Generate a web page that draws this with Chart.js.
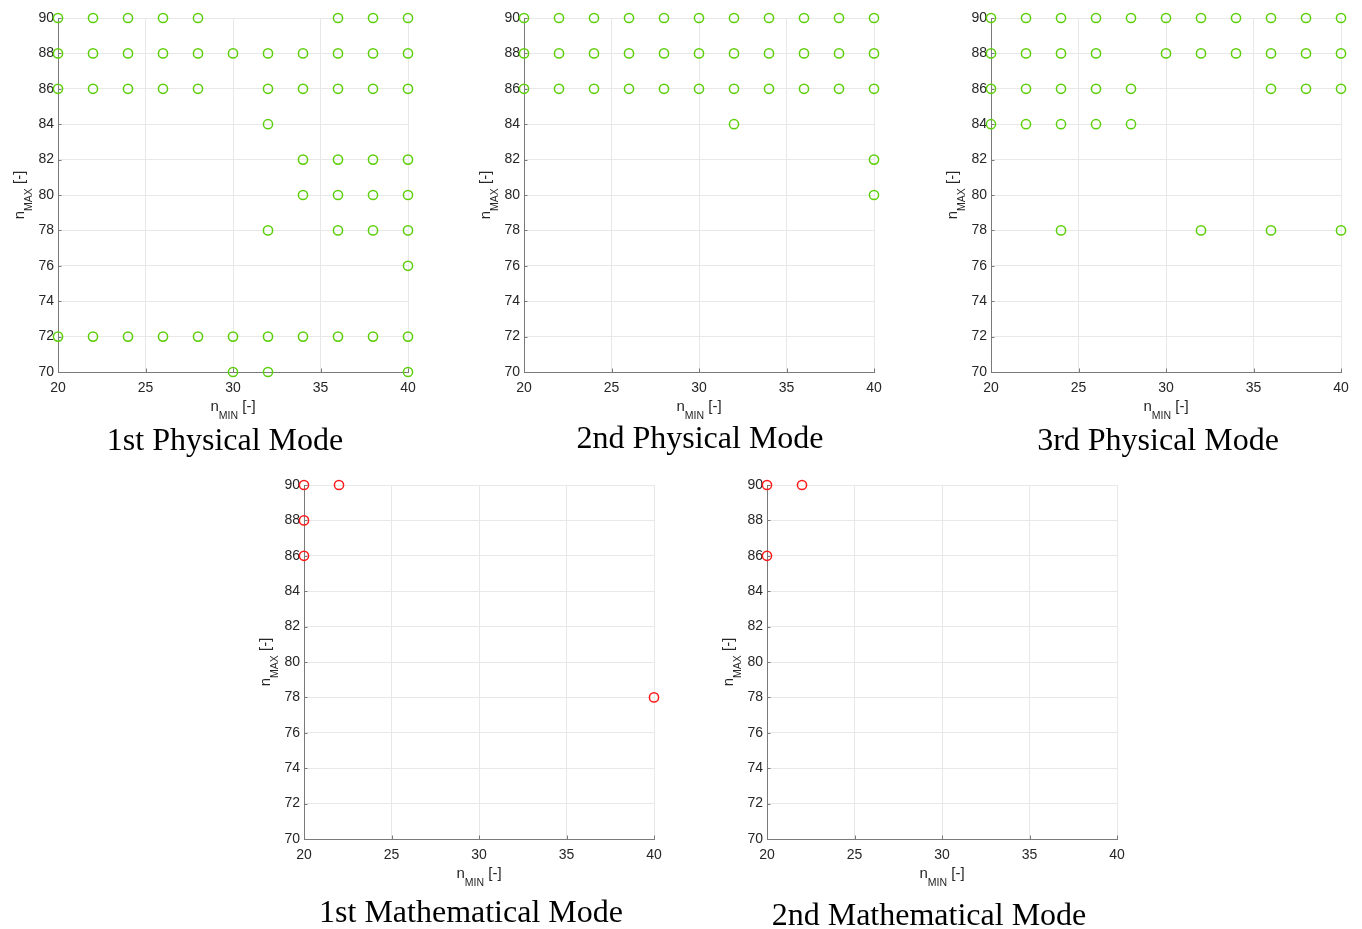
<!DOCTYPE html>
<html>
<head>
<meta charset="utf-8">
<script src="https://cdn.jsdelivr.net/npm/chart.js@4.4.1/dist/chart.umd.min.js"></script>
<style>
  html, body { margin: 0; padding: 0; background: #fff; width: 1362px; height: 929px; overflow: hidden; }
  #wrap { position: relative; width: 1362px; height: 929px; }
  .panel { position: absolute; }
</style>
</head>
<body>
<div id="wrap"></div>
<script>
// Tick values shared by all panels
const nMinTicks = [20, 25, 30, 35, 40];
const nMaxTicks = [70, 72, 74, 76, 78, 80, 82, 84, 86, 88, 90];

// Feasible (nMIN, nMAX) combinations, one pair of arrays per mode
const phys1Min = [20, 22, 24, 26, 28, 36, 38, 40,
                  20, 22, 24, 26, 28, 30, 32, 34, 36, 38, 40,
                  20, 22, 24, 26, 28, 32, 34, 36, 38, 40,
                  32,
                  34, 36, 38, 40,
                  34, 36, 38, 40,
                  32, 36, 38, 40,
                  40,
                  20, 22, 24, 26, 28, 30, 32, 34, 36, 38, 40,
                  30, 32, 40];
const phys1Max = [90, 90, 90, 90, 90, 90, 90, 90,
                  88, 88, 88, 88, 88, 88, 88, 88, 88, 88, 88,
                  86, 86, 86, 86, 86, 86, 86, 86, 86, 86,
                  84,
                  82, 82, 82, 82,
                  80, 80, 80, 80,
                  78, 78, 78, 78,
                  76,
                  72, 72, 72, 72, 72, 72, 72, 72, 72, 72, 72,
                  70, 70, 70];

const phys2Min = [20, 22, 24, 26, 28, 30, 32, 34, 36, 38, 40,
                  20, 22, 24, 26, 28, 30, 32, 34, 36, 38, 40,
                  20, 22, 24, 26, 28, 30, 32, 34, 36, 38, 40,
                  32, 40, 40];
const phys2Max = [90, 90, 90, 90, 90, 90, 90, 90, 90, 90, 90,
                  88, 88, 88, 88, 88, 88, 88, 88, 88, 88, 88,
                  86, 86, 86, 86, 86, 86, 86, 86, 86, 86, 86,
                  84, 82, 80];

const phys3Min = [20, 22, 24, 26, 28, 30, 32, 34, 36, 38, 40,
                  20, 22, 24, 26, 30, 32, 34, 36, 38, 40,
                  20, 22, 24, 26, 28, 36, 38, 40,
                  20, 22, 24, 26, 28,
                  24, 32, 36, 40];
const phys3Max = [90, 90, 90, 90, 90, 90, 90, 90, 90, 90, 90,
                  88, 88, 88, 88, 88, 88, 88, 88, 88, 88,
                  86, 86, 86, 86, 86, 86, 86, 86,
                  84, 84, 84, 84, 84,
                  78, 78, 78, 78];

const math1Min = [20, 22, 20, 20, 40];
const math1Max = [90, 90, 88, 86, 78];

const math2Min = [20, 22, 20];
const math2Max = [90, 90, 86];

const modeTitles = ['1st Physical Mode', '2nd Physical Mode', '3rd Physical Mode',
                    '1st Mathematical Mode', '2nd Mathematical Mode'];

const GREEN = '#5ccf0a';
const RED = '#ff1a1a';

// Panel placement: plot-area corner on the page, and where the caption sits
const panels = [
  { min: phys1Min, max: phys1Max, color: GREEN, left: 58,  top: 18,  capDx: 167, capDy: 78 },
  { min: phys2Min, max: phys2Max, color: GREEN, left: 524, top: 18,  capDx: 176, capDy: 76 },
  { min: phys3Min, max: phys3Max, color: GREEN, left: 991, top: 18,  capDx: 167, capDy: 78 },
  { min: math1Min, max: math1Max, color: RED,   left: 304, top: 485, capDx: 167, capDy: 83 },
  { min: math2Min, max: math2Max, color: RED,   left: 767, top: 485, capDx: 162, capDy: 86 }
];

const PLOT_W = 350, PLOT_H = 354;
const PAD_L = 60, PAD_T = 18, PAD_R = 20, PAD_B = 90;
const SANS = '"Liberation Sans", Arial, Helvetica, sans-serif';
const SERIF = '"Liberation Serif", "Times New Roman", serif';
const AXIS_COLOR = '#7a7a7a';
const TEXT_COLOR = '#262626';

// Draws "n" with a subscript and a trailing unit, centred on (cx, y baseline)
function subLabel(ctx, cx, y, base, sub, tail) {
  const mainFont = '15px ' + SANS, subFont = '10.5px ' + SANS;
  ctx.font = mainFont; const wb = ctx.measureText(base).width; const wt = ctx.measureText(tail).width;
  ctx.font = subFont; const ws = ctx.measureText(sub).width;
  let x = cx - (wb + ws + wt) / 2;
  ctx.textAlign = 'left'; ctx.textBaseline = 'alphabetic';
  ctx.font = mainFont; ctx.fillText(base, x, y); x += wb;
  ctx.font = subFont; ctx.fillText(sub, x, y + 7.5); x += ws;
  ctx.font = mainFont; ctx.fillText(tail, x, y);
}

const annotate = {
  id: 'annotate',
  afterDraw(chart, args, opts) {
    const { ctx, chartArea: a } = chart;
    const xs = chart.scales.x, ys = chart.scales.y;
    ctx.save();
    // short inward tick marks along both axes
    ctx.strokeStyle = AXIS_COLOR; ctx.lineWidth = 1;
    ctx.beginPath();
    nMinTicks.forEach(v => { const px = Math.round(xs.getPixelForValue(v)) + 0.5; ctx.moveTo(px, a.bottom); ctx.lineTo(px, a.bottom - 3.5); });
    nMaxTicks.forEach(v => { const py = Math.round(ys.getPixelForValue(v)) + 0.5; ctx.moveTo(a.left, py); ctx.lineTo(a.left + 3.5, py); });
    ctx.stroke();

    ctx.fillStyle = TEXT_COLOR;
    // x axis title
    subLabel(ctx, (a.left + a.right) / 2, a.bottom + 39, 'n', 'MIN', ' [-]');
    // y axis title, rotated
    ctx.save();
    ctx.translate(a.left - 34, (a.top + a.bottom) / 2);
    ctx.rotate(-Math.PI / 2);
    subLabel(ctx, 0, 0, 'n', 'MAX', ' [-]');
    ctx.restore();
    // mode caption
    ctx.fillStyle = '#000';
    ctx.font = '32px ' + SERIF;
    ctx.textAlign = 'center'; ctx.textBaseline = 'alphabetic';
    ctx.fillText(opts.caption, a.left + opts.dx, a.bottom + opts.dy);
    ctx.restore();
  }
};

const wrap = document.getElementById('wrap');
panels.forEach((p, i) => {
  const cv = document.createElement('canvas');
  const w = PAD_L + PLOT_W + PAD_R, h = PAD_T + PLOT_H + PAD_B;
  cv.className = 'panel';
  cv.width = w; cv.height = h;
  cv.style.left = (p.left - PAD_L) + 'px';
  cv.style.top = (p.top - PAD_T) + 'px';
  cv.style.width = w + 'px'; cv.style.height = h + 'px';
  wrap.appendChild(cv);

  const points = p.min.map((v, k) => ({ x: v, y: p.max[k] }));

  new Chart(cv, {
    type: 'scatter',
    data: {
      datasets: [{
        data: points,
        clip: false,
        showLine: false,
        pointStyle: 'circle',
        pointRadius: 4.6,
        pointHoverRadius: 4.6,
        borderWidth: 1.5,
        pointBorderWidth: 1.5,
        borderColor: p.color,
        pointBorderColor: p.color,
        backgroundColor: 'rgba(0,0,0,0)',
        pointBackgroundColor: 'rgba(0,0,0,0)'
      }]
    },
    options: {
      responsive: false,
      animation: false,
      events: [],
      layout: { padding: { left: 0, top: PAD_T, right: PAD_R, bottom: 0 } },
      plugins: {
        legend: { display: false },
        tooltip: { enabled: false },
        title: { display: false },
        annotate: { caption: modeTitles[i], dx: p.capDx, dy: p.capDy }
      },
      scales: {
        x: {
          type: 'linear', min: 20, max: 40,
          afterFit(s) { s.height = PAD_B; },
          afterBuildTicks(s) { s.ticks = nMinTicks.map(v => ({ value: v })); },
          grid: { color: '#e8e8e8', lineWidth: 1, drawTicks: false },
          border: { display: true, color: AXIS_COLOR, width: 1 },
          ticks: { padding: 8, color: TEXT_COLOR, font: { family: SANS, size: 14 }, maxRotation: 0, autoSkip: false }
        },
        y: {
          type: 'linear', min: 70, max: 90,
          afterFit(s) { s.width = PAD_L; },
          afterBuildTicks(s) { s.ticks = nMaxTicks.map(v => ({ value: v })); },
          grid: { color: '#e8e8e8', lineWidth: 1, drawTicks: false },
          border: { display: true, color: AXIS_COLOR, width: 1 },
          ticks: { padding: 4, color: TEXT_COLOR, font: { family: SANS, size: 14 }, autoSkip: false }
        }
      }
    },
    plugins: [annotate]
  });
});
</script>
</body>
</html>
